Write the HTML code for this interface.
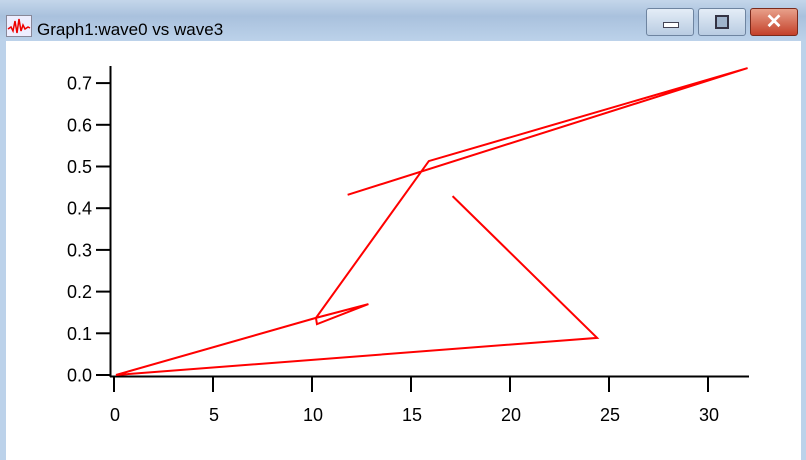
<!DOCTYPE html>
<html><head><meta charset="utf-8"><style>
body{margin:0;width:806px;height:460px;overflow:hidden;background:#fff;font-family:"Liberation Sans",sans-serif}
#title{position:absolute;left:0;top:0;width:806px;height:41px;background:linear-gradient(#c4d6ea,#a9c1dd 40%,#bcd2ea)}
#frameL{position:absolute;left:0;top:41px;width:6px;height:419px;background:#bcd2ea}
#frameR{position:absolute;right:0;top:41px;width:5px;height:419px;background:#bcd2ea}
.btn{position:absolute;top:8px;height:26px;border:1px solid #6e84a0;border-radius:3px;background:linear-gradient(#e4edf7,#b9cce2)}
</style></head><body>
<div id="title">
<svg style="position:absolute;left:6px;top:15px" width="26" height="22"><rect x="0.5" y="0.5" width="25" height="21" fill="#eef" stroke="#889"/><polyline points="2,14 5,12 7,16 9,6 11,18 13,4 15,16 17,10 19,14 22,12 24,13" fill="none" stroke="#e00" stroke-width="1.5"/></svg>
<span style="position:absolute;left:37px;top:20px;font-size:17px;color:#000">Graph1:wave0 vs wave3</span>
<div class="btn" style="left:646px;width:46px"><div style="position:absolute;left:16px;top:13px;width:14px;height:4px;background:#fff;border:1px solid #445"></div></div>
<div class="btn" style="left:698px;width:46px"><div style="position:absolute;left:16px;top:6px;width:10px;height:10px;border:2px solid #334;background:#9fb4cc"></div></div>
<div class="btn" style="left:750px;width:46px;background:linear-gradient(#e8a08a,#c4412a);border-color:#7a2a1c;color:#fff;font-weight:bold;font-size:20px;text-align:center;line-height:26px">✕</div>
</div>
<div id="frameL"></div><div id="frameR"></div>
<svg id="chart" width="806" height="460" style="position:absolute;left:0;top:0"></svg>
<script>
const xVals=[17.1,24.4,0.1,10.2,12.85,10.25,10.2,15.9,32,11.8];
const yVals=[0.429,0.089,0,0.137,0.170,0.122,0.137,0.513,0.736,0.432];
const xTicks=[0,5,10,15,20,25,30];
const yTicks=[0.0,0.1,0.2,0.3,0.4,0.5,0.6,0.7];
const NS="http://www.w3.org/2000/svg";
const svg=document.getElementById('chart');
const X=v=>114+v*19.8, Y=v=>375-v*417;
function el(t,a,p){const e=document.createElementNS(NS,t);for(const k in a)e.setAttribute(k,a[k]);(p||svg).appendChild(e);return e;}
const xa=el('line',{x1:110,y1:376.5,x2:749,y2:376.5,stroke:'#000','stroke-width':2});


const ya=el('line',{x1:110.5,y1:66,x2:110.5,y2:377,stroke:'#000','stroke-width':2});


xTicks.forEach(v=>{const x=X(v);
 el('line',{x1:x,y1:377,x2:x,y2:392,stroke:'#000','stroke-width':2});
 const t=el('text',{x:x+1,y:421,'font-size':18,'text-anchor':'middle','font-family':'Liberation Sans'});t.textContent=v;
 
 });
yTicks.forEach(v=>{const y=Y(v);
 el('line',{x1:96,y1:y,x2:110,y2:y,stroke:'#000','stroke-width':2});
 const t=el('text',{x:92,y:y+6.5,'font-size':18,'text-anchor':'end','font-family':'Liberation Sans'});t.textContent=v.toFixed(1);
 
 });
const pl=el('polyline',{points:xVals.map((v,i)=>X(v)+','+Y(yVals[i])).join(' '),fill:'none',stroke:'#f00','stroke-width':2});


</script>
</body></html>
